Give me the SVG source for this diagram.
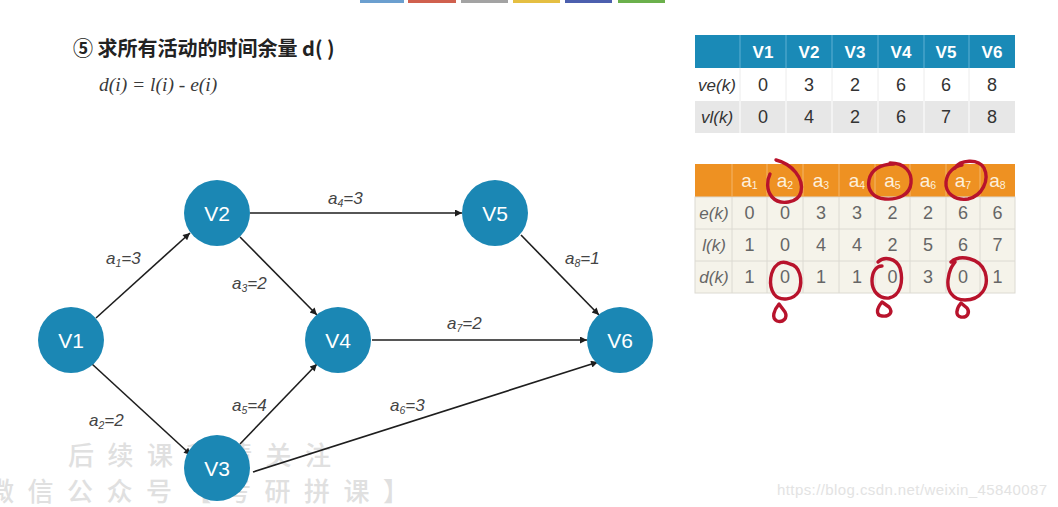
<svg xmlns="http://www.w3.org/2000/svg" width="1058" height="507" viewBox="0 0 1058 507">
<defs>
<style>
.node circle{fill:#1b87b4;}
.node text{fill:#fff;font-family:"Liberation Sans",Arial,sans-serif;font-size:21px;text-anchor:middle;}
.edge{stroke:#1e1e1e;stroke-width:1.6;fill:none;marker-end:url(#arr);}
.lbl{font-family:"Liberation Sans",Arial,sans-serif;font-style:italic;font-size:17px;fill:#444;}
.sub{font-size:10.5px;}
.th1{font-family:"Liberation Sans",Arial,sans-serif;font-weight:bold;font-size:17px;fill:#fff;text-anchor:middle;}
.td1{font-family:"Liberation Sans",Arial,sans-serif;font-size:18px;fill:#333;text-anchor:middle;}
.rl1{font-family:"Liberation Sans",Arial,sans-serif;font-style:italic;font-size:17px;fill:#333;text-anchor:middle;}
.th2{font-family:"Liberation Sans",Arial,sans-serif;font-size:19px;fill:#fdf0dc;text-anchor:middle;}
.td2{font-family:"Liberation Sans",Arial,sans-serif;font-size:18px;fill:#666;text-anchor:middle;}
.rl2{font-family:"Liberation Sans",Arial,sans-serif;font-style:italic;font-size:17px;fill:#666;text-anchor:middle;}
.red{fill:none;stroke:#b8132c;stroke-width:3.4;stroke-linecap:round;stroke-linejoin:round;}
.wm{font-family:"Noto Sans CJK SC",sans-serif;font-size:26px;font-weight:500;fill:#e0e0e0;letter-spacing:13.5px;}
</style>
<marker id="arr" viewBox="0 0 10 10" refX="10" refY="5" markerWidth="10" markerHeight="7" markerUnits="userSpaceOnUse" orient="auto">
<path d="M0,0 L10,5 L0,10 Z" fill="#1e1e1e"/>
</marker>
</defs>
<rect width="1058" height="507" fill="#fff"/>

<!-- top colour strip -->
<g id="topstrip">
<rect x="360" y="0" width="44" height="3" fill="#6b9fcf"/>
<rect x="408" y="0" width="48" height="3" fill="#d0604e"/>
<rect x="461" y="0" width="47" height="3" fill="#a3a3a3"/>
<rect x="513" y="0" width="47" height="3" fill="#e5bf42"/>
<rect x="565" y="0" width="47" height="3" fill="#4c5fae"/>
<rect x="618" y="0" width="47" height="3" fill="#6bb04c"/>
</g>

<!-- watermark -->
<g id="watermark">
<text class="wm" x="68" y="465">后续课程请关注</text>
<text class="wm" x="-12" y="501">微信公众号【考研拼课】</text>
<text x="777" y="495" font-family="'Liberation Sans',Arial,sans-serif" font-size="15" textLength="270" fill="#e3e3e3">https://blog.csdn.net/weixin_45840087</text>
</g>

<!-- title -->
<g id="title">
<text x="73" y="56" font-family="'Noto Sans CJK SC',sans-serif" font-weight="bold" font-size="20" fill="#222">⑤ 求所有活动的时间余量 d( )</text>
<text x="99" y="91" font-family="'Liberation Serif','Times New Roman',serif" font-style="italic" font-size="19.5" fill="#3a3a3a">d(i) = l(i) - e(i)</text>
</g>

<!-- connectors -->
<g id="connectors">
<line class="edge" x1="96" y1="318" x2="190" y2="233"/>
<line class="edge" x1="92" y1="364" x2="191" y2="455"/>
<line class="edge" x1="250" y1="213" x2="462" y2="213"/>
<line class="edge" x1="240" y1="237" x2="317" y2="315"/>
<line class="edge" x1="240" y1="444" x2="317" y2="364"/>
<line class="edge" x1="372" y1="340" x2="587" y2="340"/>
<line class="edge" x1="521" y1="235" x2="599" y2="315"/>
<line class="edge" x1="253" y1="472" x2="598" y2="362"/>
</g>

<!-- edge labels -->
<g id="edge-labels">
<text class="lbl" x="106" y="264">a<tspan class="sub" dy="3">1</tspan><tspan dy="-3">=3</tspan></text>
<text class="lbl" x="89" y="426">a<tspan class="sub" dy="3">2</tspan><tspan dy="-3">=2</tspan></text>
<text class="lbl" x="232" y="289">a<tspan class="sub" dy="3">3</tspan><tspan dy="-3">=2</tspan></text>
<text class="lbl" x="328" y="204">a<tspan class="sub" dy="3">4</tspan><tspan dy="-3">=3</tspan></text>
<text class="lbl" x="232" y="411">a<tspan class="sub" dy="3">5</tspan><tspan dy="-3">=4</tspan></text>
<text class="lbl" x="390" y="411">a<tspan class="sub" dy="3">6</tspan><tspan dy="-3">=3</tspan></text>
<text class="lbl" x="447" y="329">a<tspan class="sub" dy="3">7</tspan><tspan dy="-3">=2</tspan></text>
<text class="lbl" x="565" y="264">a<tspan class="sub" dy="3">8</tspan><tspan dy="-3">=1</tspan></text>
</g>

<!-- nodes -->
<g id="V1" class="node"><circle cx="71" cy="340" r="33"/><text x="71" y="347.5">V1</text></g>
<g id="V2" class="node"><circle cx="217" cy="213" r="33"/><text x="217" y="220.5">V2</text></g>
<g id="V3" class="node"><circle cx="217" cy="468" r="33"/><text x="217" y="475.5">V3</text></g>
<g id="V4" class="node"><circle cx="338" cy="340" r="33"/><text x="338" y="347.5">V4</text></g>
<g id="V5" class="node"><circle cx="495" cy="213" r="33"/><text x="495" y="220.5">V5</text></g>
<g id="V6" class="node"><circle cx="620" cy="340" r="33"/><text x="620" y="347.5">V6</text></g>

<!-- table 1 -->
<g id="table-vertex">
<rect x="695" y="35" width="320" height="33" fill="#1a8ab7"/>
<rect x="695" y="68" width="320" height="33" fill="#ffffff"/>
<rect x="695" y="101" width="320" height="32" fill="#e7e7e7"/>
<g stroke="#5fb0d3" stroke-width="1">
<line x1="740" y1="35" x2="740" y2="68"/><line x1="786" y1="35" x2="786" y2="68"/><line x1="832" y1="35" x2="832" y2="68"/><line x1="878" y1="35" x2="878" y2="68"/><line x1="924" y1="35" x2="924" y2="68"/><line x1="969" y1="35" x2="969" y2="68"/>
</g>
<g stroke="#ececec" stroke-width="1">
<line x1="740" y1="68" x2="740" y2="101"/><line x1="786" y1="68" x2="786" y2="101"/><line x1="832" y1="68" x2="832" y2="101"/><line x1="878" y1="68" x2="878" y2="101"/><line x1="924" y1="68" x2="924" y2="101"/><line x1="969" y1="68" x2="969" y2="101"/>
</g>
<g stroke="#ffffff" stroke-width="1">
<line x1="740" y1="101" x2="740" y2="133"/><line x1="786" y1="101" x2="786" y2="133"/><line x1="832" y1="101" x2="832" y2="133"/><line x1="878" y1="101" x2="878" y2="133"/><line x1="924" y1="101" x2="924" y2="133"/><line x1="969" y1="101" x2="969" y2="133"/>
</g>
<text class="th1" x="763" y="58">V1</text><text class="th1" x="809" y="58">V2</text><text class="th1" x="855" y="58">V3</text><text class="th1" x="901" y="58">V4</text><text class="th1" x="946" y="58">V5</text><text class="th1" x="992" y="58">V6</text>
<text class="rl1" x="717" y="91">ve(k)</text>
<text class="td1" x="763" y="91">0</text><text class="td1" x="809" y="91">3</text><text class="td1" x="855" y="91">2</text><text class="td1" x="901" y="91">6</text><text class="td1" x="946" y="91">6</text><text class="td1" x="992" y="91">8</text>
<text class="rl1" x="717" y="123">vl(k)</text>
<text class="td1" x="763" y="123">0</text><text class="td1" x="809" y="123">4</text><text class="td1" x="855" y="123">2</text><text class="td1" x="901" y="123">6</text><text class="td1" x="946" y="123">7</text><text class="td1" x="992" y="123">8</text>
</g>

<!-- table 2 -->
<g id="table-activity">
<rect x="695" y="164" width="320" height="33" fill="#ee9122"/>
<rect x="695" y="197" width="320" height="96" fill="#f5f3ea" stroke="#dcdad2" stroke-width="1"/>
<g stroke="#dcdad2" stroke-width="1">
<line x1="695" y1="229" x2="1015" y2="229"/><line x1="695" y1="261" x2="1015" y2="261"/>
<line x1="732" y1="197" x2="732" y2="293"/><line x1="767" y1="197" x2="767" y2="293"/><line x1="803" y1="197" x2="803" y2="293"/><line x1="839" y1="197" x2="839" y2="293"/><line x1="875" y1="197" x2="875" y2="293"/><line x1="910" y1="197" x2="910" y2="293"/><line x1="946" y1="197" x2="946" y2="293"/><line x1="980" y1="197" x2="980" y2="293"/>
</g>
<g stroke="#f3b56a" stroke-width="1">
<line x1="732" y1="164" x2="732" y2="197"/><line x1="767" y1="164" x2="767" y2="197"/><line x1="803" y1="164" x2="803" y2="197"/><line x1="839" y1="164" x2="839" y2="197"/><line x1="875" y1="164" x2="875" y2="197"/><line x1="910" y1="164" x2="910" y2="197"/><line x1="946" y1="164" x2="946" y2="197"/><line x1="980" y1="164" x2="980" y2="197"/>
</g>
<text class="th2" x="749.5" y="187">a<tspan font-size="10.5" dy="2">1</tspan></text>
<text class="th2" x="785" y="187">a<tspan font-size="10.5" dy="2">2</tspan></text>
<text class="th2" x="821" y="187">a<tspan font-size="10.5" dy="2">3</tspan></text>
<text class="th2" x="857" y="187">a<tspan font-size="10.5" dy="2">4</tspan></text>
<text class="th2" x="892.5" y="187">a<tspan font-size="10.5" dy="2">5</tspan></text>
<text class="th2" x="928" y="187">a<tspan font-size="10.5" dy="2">6</tspan></text>
<text class="th2" x="963" y="187">a<tspan font-size="10.5" dy="2">7</tspan></text>
<text class="th2" x="997.5" y="187">a<tspan font-size="10.5" dy="2">8</tspan></text>
<text class="rl2" x="714" y="219">e(k)</text>
<text class="td2" x="749.5" y="219">0</text><text class="td2" x="785" y="219">0</text><text class="td2" x="821" y="219">3</text><text class="td2" x="857" y="219">3</text><text class="td2" x="892.5" y="219">2</text><text class="td2" x="928" y="219">2</text><text class="td2" x="963" y="219">6</text><text class="td2" x="997.5" y="219">6</text>
<text class="rl2" x="714" y="251">l(k)</text>
<text class="td2" x="749.5" y="251">1</text><text class="td2" x="785" y="251">0</text><text class="td2" x="821" y="251">4</text><text class="td2" x="857" y="251">4</text><text class="td2" x="892.5" y="251">2</text><text class="td2" x="928" y="251">5</text><text class="td2" x="963" y="251">6</text><text class="td2" x="997.5" y="251">7</text>
<text class="rl2" x="714" y="283">d(k)</text>
<text class="td2" x="749.5" y="283">1</text><text class="td2" x="785" y="283">0</text><text class="td2" x="821" y="283">1</text><text class="td2" x="857" y="283">1</text><text class="td2" x="892.5" y="283">0</text><text class="td2" x="928" y="283">3</text><text class="td2" x="963" y="283">0</text><text class="td2" x="997.5" y="283">1</text>
</g>

<!-- red handwritten marks -->
<g id="annotations">
<path class="red" d="M776,160 C792,164 804,178 801,192 C798,203 780,206 772,197 C766,190 767,180 770,174"/>
<path class="red" d="M890,163 C905,163 912,172 911,183 C910,195 898,200 885,199 C873,198 867,190 869,180 C871,170 880,164 894,164"/>
<path class="red" d="M955,168 C960,160 978,158 984,168 C990,180 982,196 968,199 C955,201 945,193 946,182 C947,172 955,166 962,165"/>
<path class="red" d="M790,264 C800,266 803,280 799,291 C794,300 780,302 774,294 C768,285 770,270 778,264 C781,262 786,262 790,264"/>
<path class="red" d="M779,304 C774,310 771,318 777,321 C783,323 788,318 785,312 Z"/>
<path class="red" d="M878,262 C884,256 896,258 900,268 C904,282 900,296 889,298 C878,299 872,290 872,281 C872,272 876,266 882,266"/>
<path class="red" d="M882,302 C877,308 875,315 882,316 C890,317 893,312 889,307 Z"/>
<path class="red" d="M951,262 C960,254 980,258 985,272 C990,288 980,300 965,300 C952,300 947,290 948,280 C949,270 952,266 955,262"/>
<path class="red" d="M961,303 C956,309 955,316 961,317 C968,318 970,312 967,308 Z"/>
</g>
</svg>
